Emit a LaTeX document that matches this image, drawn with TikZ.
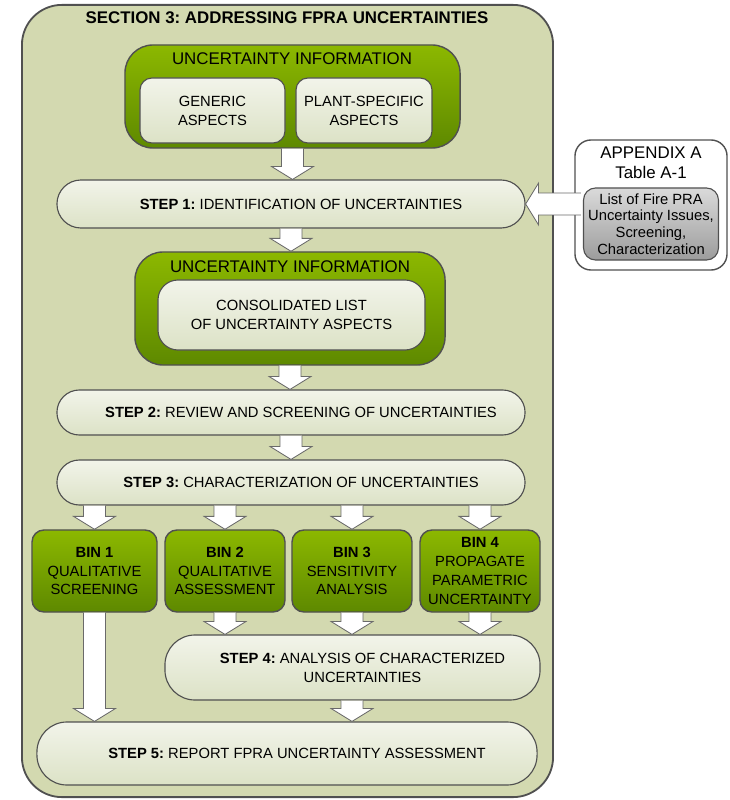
\documentclass[tikz,border=0pt]{standalone}
\usepackage{fontspec}
\setmainfont{Liberation Sans}
\frenchspacing
\usetikzlibrary{calc}
\definecolor{outerfill}{HTML}{D3D9B0}
\definecolor{edgegray}{HTML}{505050}
\definecolor{greentop}{HTML}{8CB800}
\definecolor{greenbot}{HTML}{5E8900}
\definecolor{pilltop}{HTML}{F2F4EA}
\definecolor{pillbot}{HTML}{DCE2C6}
\definecolor{graytop}{HTML}{DADADA}
\definecolor{graybot}{HTML}{9C9C9C}
\tikzstyle{section} = [draw=edgegray, line width=1.3pt, fill=outerfill, rounded corners=1cm]
\tikzstyle{infobox} = [draw=edgegray, line width=1pt, top color=greentop, bottom color=greenbot, rounded corners=0.7cm]
\tikzstyle{aspect} = [draw=edgegray, line width=0.8pt, top color=pilltop, bottom color=pillbot, rounded corners=0.3cm, align=center, font=\fontsize{10.5}{13.5}\selectfont]
\tikzstyle{stepbox} = [aspect, rounded corners=0.56cm]
\tikzstyle{bin} = [infobox, rounded corners=0.3cm, align=center, font=\fontsize{10.5}{13.3}\selectfont]
\tikzstyle{heading} = [font=\fontsize{12}{14}\selectfont]
\tikzstyle{blockarrow} = [draw=edgegray!85, fill=white, line width=0.6pt]
% text in the step boxes sits a little right of centre
\newcommand{\nudge}{\hspace*{0.5cm}}
% block arrow from the bottom of one box to the top of the next
\newcommand{\flowdown}[2]{%
  \filldraw[blockarrow] let \p1=(#1), \p2=(#2) in
    (\x1-7.8pt,\y1) -- (\x1-7.8pt,\y2+9.2pt) -- (\x1-14.9pt,\y2+9.2pt) -- (\x1,\y2)
    -- (\x1+14.9pt,\y2+9.2pt) -- (\x1+7.8pt,\y2+9.2pt) -- (\x1+7.8pt,\y1);}

\begin{document}
\begin{tikzpicture}[x=0.025cm, y=-0.025cm]
  \useasboundingbox[fill=white] (0,0) rectangle (729,800);
  \node[section, minimum width=13.275cm, minimum height=19.8cm] (sec) at (287.5,401) {};
  \node[heading, font=\fontsize{12}{14}\selectfont\bfseries] (sectitle) at (287,18) {SECTION 3: ADDRESSING FPRA UNCERTAINTIES};

  % uncertainty information, first block
  \node[infobox, minimum width=8.375cm, minimum height=2.575cm] (ui1) at (292.5,96.5) {};
  \node[heading] (ui1title) at (292,59) {UNCERTAINTY INFORMATION};
  \node[aspect, minimum width=3.625cm, minimum height=1.625cm] (generic) at (212.5,110.5) {GENERIC\\ASPECTS};
  \node[aspect, minimum width=3.4cm, minimum height=1.625cm] (plant) at (364,110.5) {PLANT-SPECIFIC\\ASPECTS};

  \node[stepbox, minimum width=11.7cm, minimum height=1.2cm, rounded corners=0.6cm] (step1) at (291,204) {\nudge\textbf{STEP 1:} IDENTIFICATION OF UNCERTAINTIES};

  % appendix
  \node[draw=edgegray, line width=1pt, fill=white, rounded corners=0.4cm, minimum width=3.8cm, minimum height=3.25cm] (appx) at (651,205) {};
  \node[heading, align=center, font=\fontsize{12}{14}\selectfont] (appxtitle) at (651,163) {APPENDIX A\\Table A-1};
  \node[draw=edgegray, line width=0.8pt, top color=graytop, bottom color=graybot, rounded corners=0.3cm, minimum width=3.2cm, minimum height=1.8cm, align=center, font=\fontsize{10.5}{11.8}\selectfont] (list) at (651,224) {List of Fire PRA\\Uncertainty Issues,\\Screening,\\Characterization};

  % uncertainty information, second block
  \node[infobox, minimum width=7.75cm, minimum height=2.825cm] (ui2) at (290,308.5) {};
  \node[heading] (ui2title) at (290,267) {UNCERTAINTY INFORMATION};
  \node[aspect, rounded corners=0.5cm, minimum width=6.675cm, minimum height=1.75cm] (consol) at (291.5,315) {CONSOLIDATED LIST\\OF UNCERTAINTY ASPECTS};

  \node[stepbox, minimum width=11.7cm, minimum height=1.125cm] (step2) at (291,412.5) {\nudge\textbf{STEP 2:} REVIEW AND SCREENING OF UNCERTAINTIES};
  \node[stepbox, minimum width=11.7cm, minimum height=1.125cm] (step3) at (291,482.5) {\nudge\textbf{STEP 3:} CHARACTERIZATION OF UNCERTAINTIES};

  % bins
  \node[bin, minimum width=3.125cm, minimum height=2.05cm] (bin1) at (94.5,571) {\textbf{BIN 1}\\QUALITATIVE\\SCREENING};
  \node[bin, minimum width=3cm, minimum height=2.05cm] (bin2) at (225,571) {\textbf{BIN 2}\\QUALITATIVE\\ASSESSMENT};
  \node[bin, minimum width=3cm, minimum height=2.05cm] (bin3) at (352,571) {\textbf{BIN 3}\\SENSITIVITY\\ANALYSIS};
  \node[bin, minimum width=3cm, minimum height=2.05cm] (bin4) at (480,571) {\textbf{BIN 4}\\PROPAGATE\\PARAMETRIC\\UNCERTAINTY};

  \node[stepbox, rounded corners=0.75cm, minimum width=9.375cm, minimum height=1.625cm] (step4) at (352.5,667.5) {\nudge\textbf{STEP 4:} ANALYSIS OF CHARACTERIZED\\\nudge UNCERTAINTIES};
  \node[stepbox, rounded corners=0.75cm, minimum width=12.5cm, minimum height=1.575cm] (step5) at (287,753.5) {\nudge\textbf{STEP 5:} REPORT FPRA UNCERTAINTY ASSESSMENT};

  % block arrows
  \flowdown{ui1.south}{ui1.south |- step1.north}
  \flowdown{step1.south}{step1.south |- ui2.north}
  \flowdown{ui2.south}{ui2.south |- step2.north}
  \flowdown{step2.south}{step2.south |- step3.north}
  \flowdown{bin1.north |- step3.south}{bin1.north}
  \flowdown{bin2.north |- step3.south}{bin2.north}
  \flowdown{bin3.north |- step3.south}{bin3.north}
  \flowdown{bin4.north |- step3.south}{bin4.north}
  \flowdown{bin1.south}{bin1.south |- step5.north}
  \flowdown{bin2.south}{bin2.south |- step4.north}
  \flowdown{bin3.south}{bin3.south |- step4.north}
  \flowdown{bin4.south}{bin4.south |- step4.north}
  \flowdown{bin3.south |- step4.south}{bin3.south |- step5.north}
  \filldraw[blockarrow] let \p1=($(list.west |- step1.east)+(-2,0)$), \p2=(step1.east) in
    (\x1,\y1+7.8pt) -- (\x2+9.2pt,\y1+7.8pt) -- (\x2+9.2pt,\y1+14.9pt) -- (\x2,\y1)
    -- (\x2+9.2pt,\y1-14.9pt) -- (\x2+9.2pt,\y1-7.8pt) -- (\x1,\y1-7.8pt);
\end{tikzpicture}
\end{document}
